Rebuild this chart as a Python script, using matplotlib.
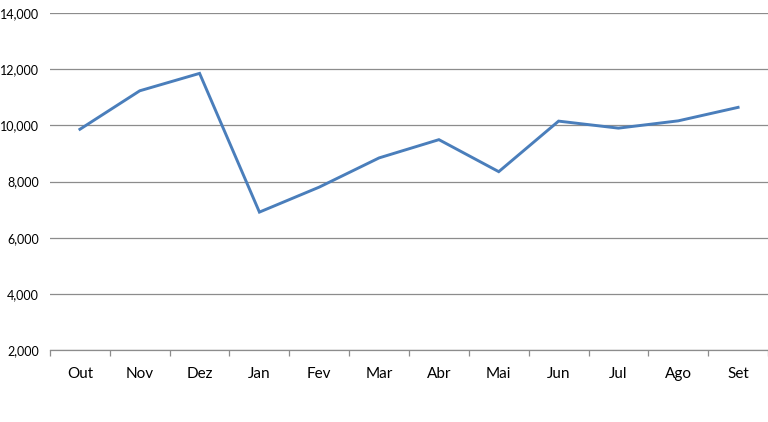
import matplotlib
matplotlib.use("Agg")
import matplotlib.pyplot as plt
import matplotlib.ticker as mticker
import numpy as np

months = ["Out", "Nov", "Dez", "Jan", "Fev", "Mar", "Abr", "Mai", "Jun", "Jul", "Ago", "Set"]
values = [9860, 11230, 11850, 6910, 7800, 8840, 9490, 8350, 10150, 9900, 10160, 10640]
y_ticks = [2000, 4000, 6000, 8000, 10000, 12000, 14000]

plt.rcParams["font.family"] = ["Lato", "DejaVu Sans"]

fig = plt.figure(figsize=(7.68, 4.22), dpi=100)
ax = fig.add_axes([50 / 768, 1 - 350 / 422, 718 / 768, 337 / 422])

x = np.arange(len(months))
ax.plot(x, values, color="#4a7ebb", linewidth=2.1, solid_joinstyle="miter")

ax.set_xlim(-0.5, len(months) - 0.5)
ax.set_ylim(y_ticks[0], y_ticks[-1])
ax.set_yticks(y_ticks)
ax.yaxis.set_major_formatter(mticker.FuncFormatter(lambda v, p: f"{int(v):,}"))
ax.grid(axis="y", color="#8c8c8c", linewidth=0.9)
ax.set_axisbelow(True)

ax.set_xticks(x)
ax.set_xticklabels(months)
ax.set_xticks(np.arange(-0.5, len(months)), minor=True)
ax.tick_params(axis="x", which="major", length=0, pad=12, labelsize=11, colors="black")
ax.tick_params(axis="x", which="minor", length=4, width=0.9, color="#8c8c8c")
ax.tick_params(axis="y", length=0, pad=8, labelsize=9, colors="black")

for s in ["top", "right", "left"]:
    ax.spines[s].set_visible(False)
ax.spines["bottom"].set_color("#8c8c8c")
ax.spines["bottom"].set_linewidth(0.9)

fig.savefig("out.png", dpi=100)
